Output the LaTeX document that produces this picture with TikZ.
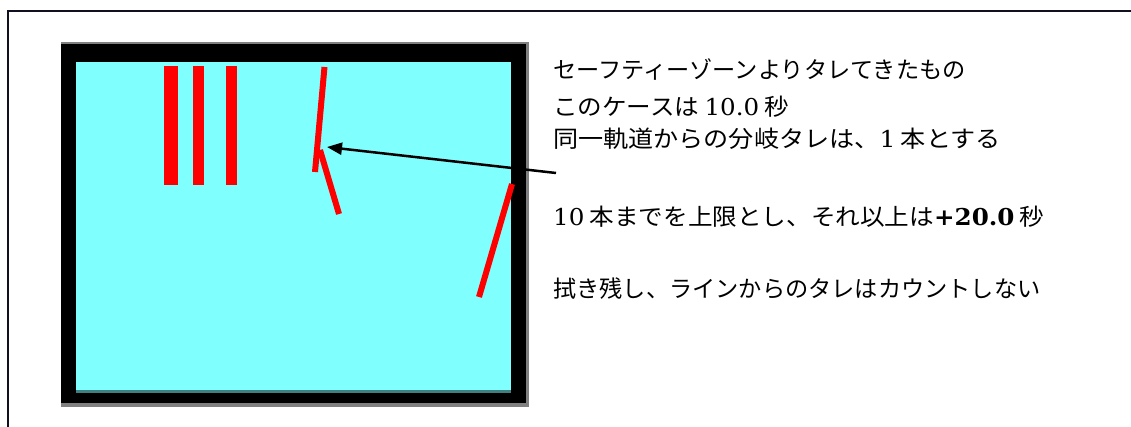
\documentclass[tikz,border=0pt]{standalone}
\usepackage{fontspec}
\usepackage{graphicx}
\setmainfont{Liberation Serif}
\newfontfamily\jp{Noto Sans CJK JP}
\newfontfamily\dg{DejaVu Serif}
\usetikzlibrary{arrows.meta}
\definecolor{boxcyan}{HTML}{80FFFF}
\definecolor{boxteal}{HTML}{408080}
\definecolor{boxgray}{HTML}{808080}
\definecolor{framecol}{HTML}{101020}
\newcommand{\gap}{\hspace{5pt}}
\begin{document}
\begin{tikzpicture}[x=1pt,y=-1pt,
  txt/.style={anchor=base west, inner sep=0pt, font=\fontsize{23.2}{28}\selectfont},
  drip/.style={draw=red, line width=6pt},
  redbar/.style={fill=red},
  pointer/.style={draw=black, line width=2.5pt, -{Triangle[length=15pt,width=12pt]}}]
\useasboundingbox (0,0) rectangle (1131,427);
% outer frame
\draw[line width=2pt, draw=framecol] (8,427) -- (8,11) -- (1131,11);
% box
\fill[boxgray] (61,42.3) rectangle (529,406.7);
\fill[black] (61,44.3) rectangle (526,402.7);
\fill[boxcyan] (76,62) rectangle (511,392.7);
\fill[boxteal] (76,390) rectangle (511,392.7);
% red bars
\fill[redbar] (164,66) rectangle (178,184.7);
\fill[redbar] (193,66) rectangle (204,184.7);
\fill[redbar] (226,66) rectangle (237,184.7);
% drips
\draw[drip] (324.5,67) -- (315,172);
\draw[drip] (320,150) -- (339,214);
\draw[drip] (512,184) -- (479,297);
% arrow
\coordinate (arrowstart) at (556,173);
\coordinate (arrowtip) at (327,147);
\draw[pointer] (arrowstart) -- (arrowtip);
% texts
\node[txt] (t1) at (553,79) {\jp セーフティーゾーンよりタレてきたもの};
\node[txt] (t2) at (553,116) {\scalebox{1.058}[1]{{\jp このケースは}\gap{\dg 10.0}\gap{\jp 秒}}};
\node[txt] (t3) at (553,148) {\scalebox{1.082}[1]{{\jp 同一軌道からの分岐タレは、}{\dg 1}\gap{\jp 本とする}}};
\node[txt] (t4) at (553,226) {\scalebox{1.06}[1]{{\dg 10}\gap{\jp 本までを上限とし、それ以上は}{\dg\bfseries +20.0}\gap{\jp 秒}}};
\node[txt] (t5) at (553,298) {\jp 拭き残し、ラインからのタレはカウントしない};
\end{tikzpicture}
\end{document}
